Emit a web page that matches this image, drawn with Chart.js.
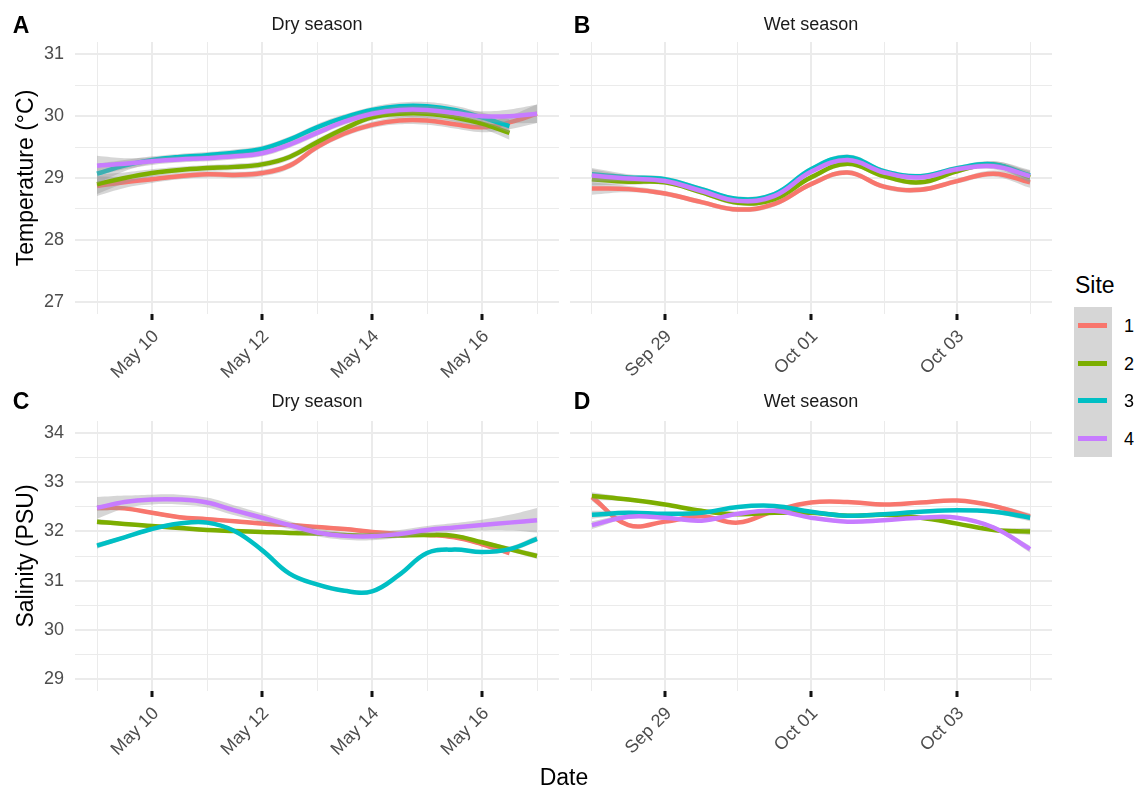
<!DOCTYPE html>
<html>
<head>
<meta charset="utf-8">
<script src="https://cdn.jsdelivr.net/npm/chart.js@4.4.1/dist/chart.umd.min.js"></script>
<style>
body{margin:0;background:#fff;width:1134px;height:787px;position:relative;overflow:hidden;font-family:"Liberation Sans",Arial,sans-serif}
canvas{position:absolute}
.t{position:absolute;line-height:1;white-space:nowrap;transform:translate(-50%,-50%)}
.strip{font-size:18px;color:#1A1A1A}
.tag{font-size:23px;font-weight:bold;color:#000}
.ytitle{font-size:23px;color:#000;transform:translate(-50%,-50%) rotate(-90deg)}
.key{position:absolute;left:1074px;width:38px;height:37.5px;background:#D6D6D6}
.key i{position:absolute;left:4px;top:16px;width:29px;height:5px}
.lab{position:absolute;left:1124px;font-size:18px;line-height:1;color:#000;transform:translateY(-50%)}
</style>
</head>
<body>
<canvas id="pA" width="563" height="400" style="left:0;top:0"></canvas>
<canvas id="pB" width="496" height="400" style="left:560px;top:0"></canvas>
<canvas id="pC" width="563" height="400" style="left:0;top:380px"></canvas>
<canvas id="pD" width="496" height="400" style="left:560px;top:380px"></canvas>

<div class="t tag" style="left:21px;top:25px">A</div>
<div class="t tag" style="left:582px;top:25px">B</div>
<div class="t tag" style="left:21px;top:401px">C</div>
<div class="t tag" style="left:582px;top:401px">D</div>
<div class="t strip" style="left:317px;top:24px">Dry season</div>
<div class="t strip" style="left:811px;top:24px">Wet season</div>
<div class="t strip" style="left:317px;top:401px">Dry season</div>
<div class="t strip" style="left:811px;top:401px">Wet season</div>
<div class="t ytitle" style="left:25px;top:178px">Temperature (°C)</div>
<div class="t ytitle" style="left:25px;top:556px">Salinity (PSU)</div>
<div class="t" style="left:564px;top:777px;font-size:23px">Date</div>
<div class="t" style="left:1075px;top:285px;font-size:23px;transform:translateY(-50%)">Site</div>
<div id="legend"></div>

<script>
// sites and colours
const siteNames = ["1", "2", "3", "4"];
const siteColors = ["#F8766D", "#7CAE00", "#00BFC4", "#C77CFF"];

// x positions (day of month; wet season Oct days counted on from Sep 30)
const dryDays = [9, 9.5, 10, 10.5, 11, 11.5, 12, 12.5, 13, 13.5, 14, 14.5, 15, 15.5, 16, 16.5, 17];
const wetDays = [28, 28.5, 29, 29.5, 30, 30.5, 31, 31.5, 32, 32.5, 33, 33.5, 34];
const dryGridDays = [9, 10, 11, 12, 13, 14, 15, 16, 17];
const wetGridDays = [28, 29, 30, 31, 32, 33, 34];
const dryTickDays = [10, 12, 14, 16];
const dryTickLabels = ["May 10", "May 12", "May 14", "May 16"];
const wetTickDays = [29, 31, 33];
const wetTickLabels = ["Sep 29", "Oct 01", "Oct 03"];
const tempTicks = [27, 27.5, 28, 28.5, 29, 29.5, 30, 30.5, 31];
const salTicks = [29, 29.5, 30, 30.5, 31, 31.5, 32, 32.5, 33, 33.5, 34];

// A: temperature, dry season
const tempDry1 = [28.87, 28.93, 28.98, 29.03, 29.06, 29.05, 29.08, 29.2, 29.5, 29.72, 29.86, 29.93, 29.93, 29.87, 29.82, 29.9, 30.04];
const tempDry2 = [28.9, 29.0, 29.08, 29.13, 29.16, 29.18, 29.22, 29.34, 29.58, 29.8, 29.98, 30.04, 30.04, 29.98, 29.88, 29.73, null];
const tempDry3 = [29.07, 29.2, 29.29, 29.34, 29.37, 29.41, 29.47, 29.62, 29.82, 29.98, 30.1, 30.16, 30.16, 30.1, 29.98, 29.84, null];
const tempDry4 = [29.2, 29.23, 29.27, 29.3, 29.32, 29.35, 29.4, 29.54, 29.73, 29.91, 30.04, 30.1, 30.1, 30.05, 30.0, 30.0, 30.04];
const seTempDry = [0.16, 0.09, 0.06, 0.05, 0.05, 0.05, 0.05, 0.05, 0.05, 0.05, 0.05, 0.06, 0.07, 0.07, 0.08, 0.11, 0.15];

// B: temperature, wet season
const tempWet1 = [28.83, 28.82, 28.75, 28.61, 28.49, 28.58, 28.9, 29.09, 28.86, 28.81, 28.95, 29.07, 28.93];
const tempWet2 = [28.98, 28.94, 28.93, 28.77, 28.6, 28.66, 29.01, 29.23, 29.03, 28.93, 29.11, 29.22, 29.01];
const tempWet3 = [29.06, 29.01, 28.98, 28.82, 28.66, 28.74, 29.14, 29.34, 29.11, 29.03, 29.16, 29.22, 29.04];
const tempWet4 = [29.04, 28.99, 28.95, 28.79, 28.63, 28.71, 29.1, 29.29, 29.09, 29.01, 29.14, 29.19, 29.03];
const seTempWet = [0.1, 0.05, 0.04, 0.04, 0.04, 0.04, 0.04, 0.04, 0.04, 0.04, 0.04, 0.05, 0.09];

// C: salinity, dry season
const salDry1 = [32.48, 32.47, 32.38, 32.29, 32.25, 32.21, 32.16, 32.13, 32.09, 32.05, 31.99, 31.95, 31.93, 31.88, 31.74, 31.56, null];
const salDry2 = [32.2, 32.15, 32.11, 32.07, 32.03, 32.01, 31.99, 31.97, 31.96, 31.93, 31.91, 31.92, 31.93, 31.91, 31.78, 31.64, 31.5];
const salDry3 = [31.71, 31.88, 32.05, 32.16, 32.18, 32.01, 31.62, 31.14, 30.92, 30.79, 30.78, 31.12, 31.56, 31.63, 31.58, 31.64, 31.85];
const salDry4 = [32.48, 32.6, 32.65, 32.65, 32.59, 32.43, 32.28, 32.13, 31.98, 31.91, 31.9, 31.95, 32.03, 32.08, 32.13, 32.18, 32.23];
const seSalDry = [0.06, 0.04, 0.04, 0.04, 0.04, 0.04, 0.04, 0.04, 0.04, 0.04, 0.04, 0.04, 0.04, 0.04, 0.04, 0.05, 0.06];
const seSalDry4 = [0.22, 0.13, 0.1, 0.1, 0.1, 0.1, 0.09, 0.08, 0.08, 0.08, 0.08, 0.08, 0.08, 0.09, 0.11, 0.16, 0.25];

// D: salinity, wet season
const salWet1 = [32.7, 32.13, 32.2, 32.31, 32.18, 32.42, 32.59, 32.6, 32.55, 32.59, 32.63, 32.52, 32.3];
const salWet2 = [32.72, 32.65, 32.55, 32.42, 32.35, 32.38, 32.38, 32.32, 32.34, 32.28, 32.16, 32.03, 32.0];
const salWet3 = [32.34, 32.38, 32.36, 32.38, 32.5, 32.52, 32.4, 32.32, 32.35, 32.4, 32.43, 32.4, 32.28];
const salWet4 = [32.13, 32.3, 32.28, 32.22, 32.36, 32.42, 32.28, 32.2, 32.23, 32.28, 32.28, 32.08, 31.64];
const seSalWet = [0.08, 0.04, 0.03, 0.03, 0.03, 0.03, 0.03, 0.03, 0.03, 0.03, 0.03, 0.04, 0.07];

const FONT = "'Liberation Sans', Arial, sans-serif";
const RIBBON = "rgba(153,153,153,0.4)";

// ggplot draws ribbon1, line1, ribbon2, line2... Chart.js draws the last dataset first
function buildDatasets(days, series, ses) {
    const out = [];
    for (let k = series.length - 1; k >= 0; k--) {
        const vals = series[k], se = ses[k];
        const pts = (f) => days.map((d, i) => ({ x: d, y: vals[i] == null ? null : f(vals[i], se[i]) }));
        const common = { pointRadius: 0, tension: 0.4, spanGaps: false };
        out.push(Object.assign({ data: pts(v => v), borderColor: siteColors[k], borderWidth: 4.5, fill: false, borderJoinStyle: "round" }, common));
        out.push(Object.assign({ data: pts((v, s) => v + s), borderWidth: 0, borderColor: "rgba(0,0,0,0)", backgroundColor: RIBBON, fill: "+1" }, common));
        out.push(Object.assign({ data: pts((v, s) => v - s), borderWidth: 0, borderColor: "rgba(0,0,0,0)", fill: false }, common));
    }
    return out;
}

function makePanel(id, p) {
    const isMajor = (c) => c.tick && p.tickDays.includes(c.tick.value);
    new Chart(document.getElementById(id), {
        type: "line",
        data: { datasets: buildDatasets(p.days, p.series, p.ses) },
        options: {
            responsive: false,
            animation: false,
            layout: { padding: { top: p.top, left: p.left, right: 4, bottom: 0 } },
            plugins: { legend: { display: false }, tooltip: { enabled: false } },
            scales: {
                x: {
                    type: "linear", min: p.xMin, max: p.xMax,
                    afterBuildTicks: s => { s.ticks = p.gridDays.map(v => ({ value: v })); },
                    afterFit: s => { s.height = p.xHeight; },
                    border: { display: false },
                    grid: {
                        color: "#EBEBEB",
                        lineWidth: c => isMajor(c) ? 2 : 1,
                        tickColor: c => isMajor(c) ? "#111" : "rgba(0,0,0,0)",
                        tickWidth: c => isMajor(c) ? 3 : 1,
                        tickLength: 6
                    },
                    ticks: {
                        autoSkip: false, minRotation: 45, maxRotation: 45, padding: 6, labelOffset: 4,
                        color: "#4D4D4D", font: { family: FONT, size: 18 },
                        callback: v => { const i = p.tickDays.indexOf(v); return i >= 0 ? p.tickLabels[i] : ""; }
                    }
                },
                y: {
                    type: "linear", min: p.yMin, max: p.yMax,
                    afterBuildTicks: s => { s.ticks = p.yTicks.map(v => ({ value: v })); },
                    afterFit: s => { s.width = p.showY ? 75 : 0; },
                    border: { display: false },
                    grid: {
                        color: "#EBEBEB",
                        lineWidth: c => c.tick && Number.isInteger(c.tick.value) ? 2 : 1,
                        drawTicks: false
                    },
                    ticks: {
                        display: p.showY, padding: 11,
                        color: "#4D4D4D", font: { family: FONT, size: 18 },
                        callback: v => Number.isInteger(v) ? String(v) : ""
                    }
                }
            }
        }
    });
}

const dry = { days: dryDays, gridDays: dryGridDays, tickDays: dryTickDays, tickLabels: dryTickLabels, xMin: 8.6, xMax: 17.4, showY: true, left: 0 };
const wet = { days: wetDays, gridDays: wetGridDays, tickDays: wetTickDays, tickLabels: wetTickLabels, xMin: 27.7, xMax: 34.3, showY: false, left: 10 };
const temp = { yTicks: tempTicks, yMin: 26.8, yMax: 31.2, top: 42, xHeight: 86 };
const sal = { yTicks: salTicks, yMin: 28.75, yMax: 34.25, top: 41, xHeight: 89 };

makePanel("pA", Object.assign({}, dry, temp, { series: [tempDry1, tempDry2, tempDry3, tempDry4], ses: [seTempDry, seTempDry, seTempDry, seTempDry] }));
makePanel("pB", Object.assign({}, wet, temp, { series: [tempWet1, tempWet2, tempWet3, tempWet4], ses: [seTempWet, seTempWet, seTempWet, seTempWet] }));
makePanel("pC", Object.assign({}, dry, sal, { series: [salDry1, salDry2, salDry3, salDry4], ses: [seSalDry, seSalDry, seSalDry, seSalDry4] }));
makePanel("pD", Object.assign({}, wet, sal, { series: [salWet1, salWet2, salWet3, salWet4], ses: [seSalWet, seSalWet, seSalWet, seSalWet] }));

// legend: grey keys like the ribbons, one row per site
const legend = document.getElementById("legend");
siteNames.forEach((name, i) => {
    const top = 307 + i * 37.5;
    legend.insertAdjacentHTML("beforeend",
        '<div class="key" style="top:' + top + 'px"><i style="background:' + siteColors[i] + '"></i></div>' +
        '<div class="lab" style="top:' + (top + 19) + 'px">' + name + '</div>');
});
</script>
</body>
</html>
